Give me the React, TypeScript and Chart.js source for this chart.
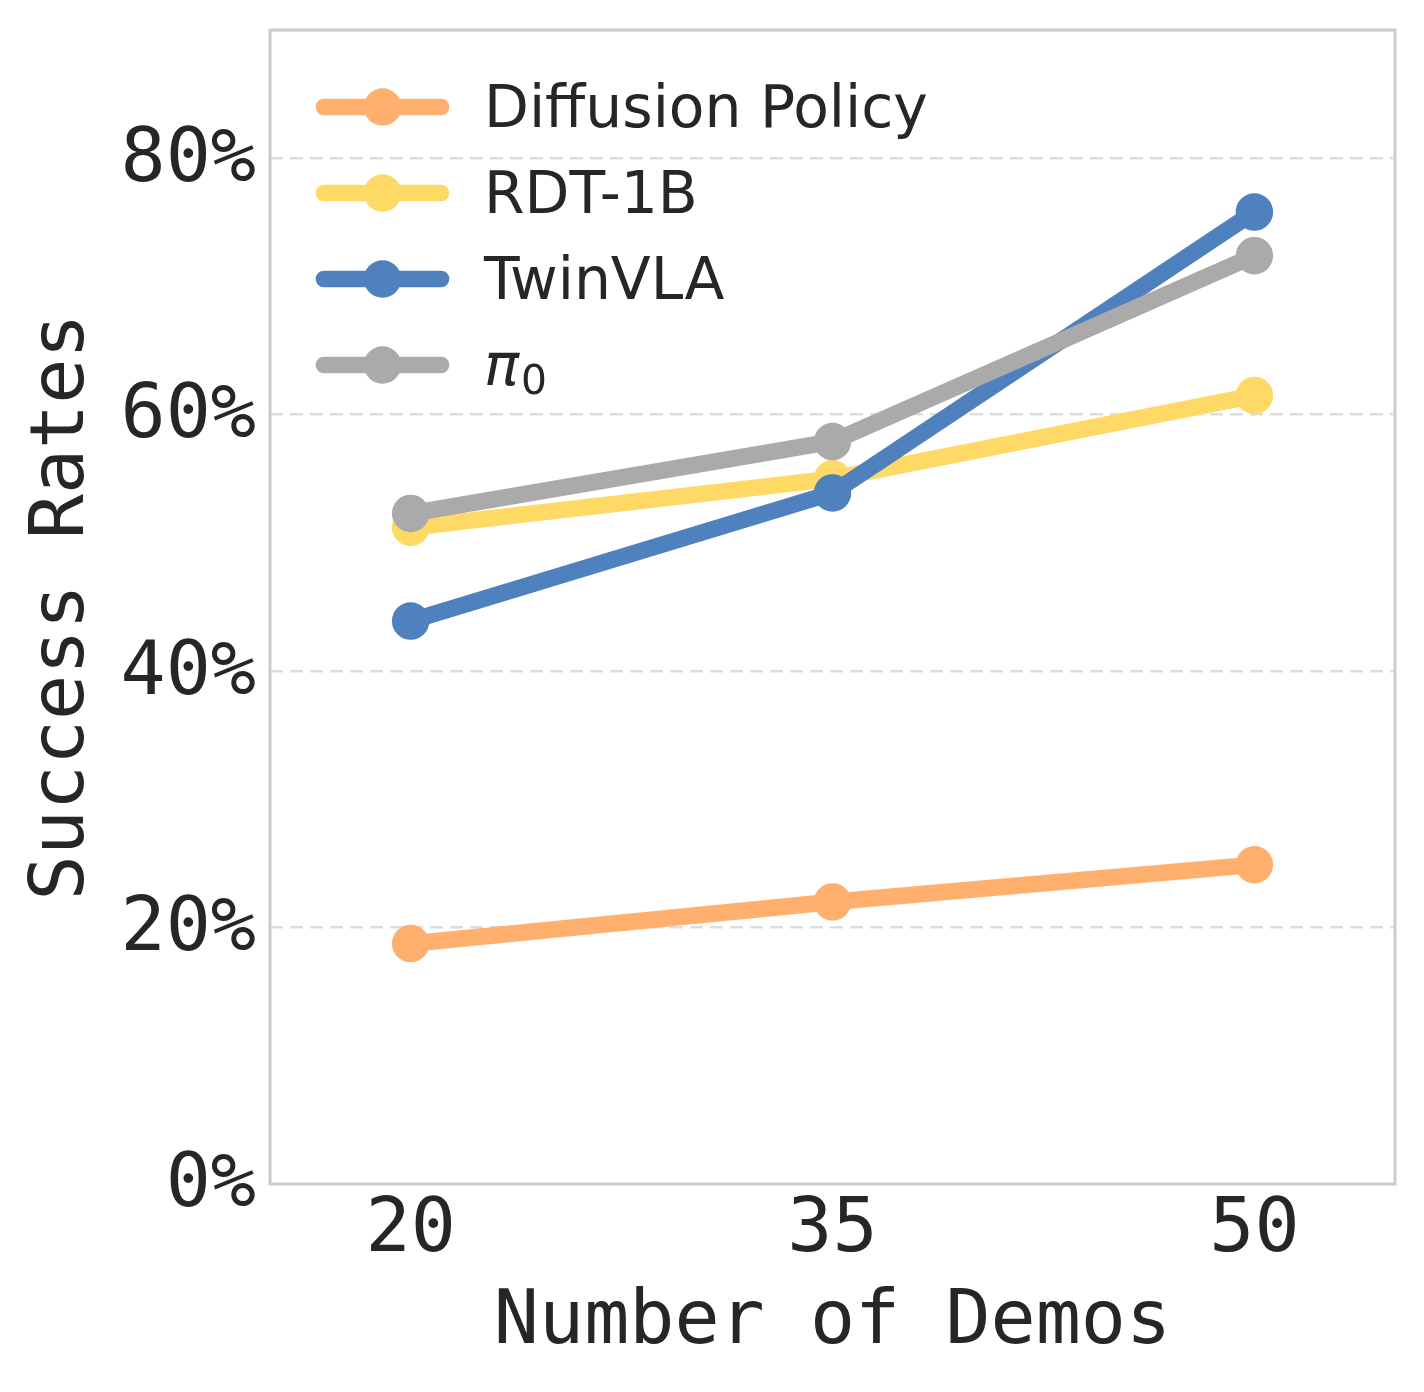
import React, { useEffect, useRef } from "react";
import { Chart, registerables } from "chart.js";

Chart.register(...registerables);

// ---- data ----
const demos = [20, 35, 50];
const seriesLabels = ["Diffusion Policy", "RDT-1B", "TwinVLA", "$\\pi_0$"];
const diffusionPolicy = [18.75, 22.0, 24.9];
const rdt1b = [51.2, 55.0, 61.5];
const twinVLA = [43.9, 53.9, 75.8];
const pi0 = [52.3, 57.9, 72.4];
const seriesColors = ["#FFB06E", "#FFD966", "#4E81BD", "#AAAAAA"];
const yTicks = [0, 20, 40, 60, 80];
const xTicks = [20, 35, 50];
const xLabel = "Number of Demos";
const yLabel = "Success Rates";

const W = 1424;
const H = 1392;
const LINE_W = 16.7;
const MARKER_R = 18.75;
const TEXT_COLOR = "#262626";
const MONO = "'DejaVu Sans Mono', monospace";
const SANS = "'DejaVu Sans', sans-serif";

const seriesValues = [diffusionPolicy, rdt1b, twinVLA, pi0];

const framePlugin = {
  id: "frame",
  afterDatasetsDraw(chart: any) {
    const { ctx, chartArea: a } = chart;
    ctx.save();
    ctx.strokeStyle = "#cccccc";
    ctx.lineWidth = 3;
    ctx.strokeRect(a.left, a.top, a.right - a.left, a.bottom - a.top);
    ctx.restore();
  },
};

const legendPlugin = {
  id: "customLegend",
  afterDraw(chart: any) {
    const { ctx, chartArea: a } = chart;
    const x0 = a.left + 54;
    const x1 = a.left + 171;
    const textX = a.left + 214;
    const y0 = a.top + 77;
    const dy = 86;
    const fs = 58.33;
    seriesLabels.forEach((label, i) => {
      const y = y0 + i * dy;
      const c = seriesColors[i];
      ctx.save();
      ctx.strokeStyle = c;
      ctx.lineWidth = LINE_W;
      ctx.lineCap = "round";
      ctx.beginPath();
      ctx.moveTo(x0, y);
      ctx.lineTo(x1, y);
      ctx.stroke();
      ctx.fillStyle = c;
      ctx.beginPath();
      ctx.arc((x0 + x1) / 2, y, MARKER_R, 0, Math.PI * 2);
      ctx.fill();
      ctx.fillStyle = TEXT_COLOR;
      ctx.textBaseline = "alphabetic";
      ctx.textAlign = "left";
      const baseline = y + fs * 0.346;
      const m = label.match(/^\$\\pi_(.+)\$$/);
      if (m) {
        ctx.font = `italic ${fs}px ${SANS}`;
        const pw = ctx.measureText("π").width;
        ctx.fillText("π", textX, baseline);
        ctx.font = `${fs * 0.7}px ${SANS}`;
        ctx.fillText(m[1], textX + pw + 2, baseline + 9);
      } else {
        ctx.font = `${fs}px ${SANS}`;
        ctx.fillText(label, textX, baseline);
      }
      ctx.restore();
    });
  },
};

export default function App() {
  const ref = useRef<HTMLCanvasElement | null>(null);

  useEffect(() => {
    document.body.style.margin = "0";
    const canvas = ref.current;
    if (!canvas) return;
    const datasets = seriesLabels.map((label, i) => ({
      label,
      data: demos.map((d, j) => ({ x: d, y: seriesValues[i][j] })),
      borderColor: seriesColors[i],
      backgroundColor: seriesColors[i],
      pointBackgroundColor: seriesColors[i],
      pointBorderWidth: 0,
      pointRadius: MARKER_R,
      pointHoverRadius: MARKER_R,
      borderWidth: LINE_W,
      borderCapStyle: "round" as const,
      borderJoinStyle: "round" as const,
      tension: 0,
      fill: false,
      order: seriesLabels.length - 1 - i,
    }));

    const chart = new Chart(canvas, {
      type: "line",
      data: { datasets },
      options: {
        animation: false,
        responsive: false,
        devicePixelRatio: 1,
        events: [],
        layout: { padding: { top: 30, right: 29, left: 0, bottom: 0 } },
        plugins: {
          legend: { display: false },
          tooltip: { enabled: false },
        },
        scales: {
          x: {
            type: "linear",
            min: 15,
            max: 55,
            afterBuildTicks: (scale: any) => {
              scale.ticks = xTicks.map((v) => ({ value: v }));
            },
            afterFit: (scale: any) => {
              scale.height = 208;
              scale.paddingLeft = 0;
              scale.paddingRight = 0;
            },
            grid: { display: false, drawTicks: false },
            border: { display: false },
            ticks: {
              padding: 3,
              color: TEXT_COLOR,
              font: { family: MONO, size: 75, lineHeight: 1.2 },
              maxRotation: 0,
              callback: (v: any) => String(v),
            },
            title: {
              display: true,
              text: xLabel,
              color: TEXT_COLOR,
              font: { family: MONO, size: 75, lineHeight: 1.2 },
              padding: { top: 0, bottom: 23 },
            },
          },
          y: {
            type: "linear",
            min: 0,
            max: 90,
            afterBuildTicks: (scale: any) => {
              scale.ticks = yTicks.map((v) => ({ value: v }));
            },
            afterFit: (scale: any) => {
              scale.width = 270;
              scale.paddingTop = 0;
              scale.paddingBottom = 0;
            },
            grid: {
              display: true,
              drawTicks: false,
              color: (c: any) => (c.tick && c.tick.value === 0 ? "rgba(0,0,0,0)" : "#dddddd"),
              lineWidth: 2.5,
            },
            border: { display: false, dash: [13, 7] },
            ticks: {
              padding: 14,
              labelOffset: 3,
              color: TEXT_COLOR,
              font: { family: MONO, size: 75, lineHeight: 1.2 },
              callback: (v: any) => `${v}%`,
            },
            title: {
              display: true,
              text: yLabel,
              color: TEXT_COLOR,
              font: { family: MONO, size: 75, lineHeight: 1.2 },
              padding: { top: 19, bottom: 0 },
            },
          },
        },
      },
      plugins: [framePlugin, legendPlugin],
    });
    return () => chart.destroy();
  }, []);

  return (
    <div style={{ position: "absolute", left: 0, top: 0, width: W, height: H, background: "#fff" }}>
      <canvas ref={ref} width={W} height={H} style={{ width: W, height: H, display: "block" }} />
    </div>
  );
}
